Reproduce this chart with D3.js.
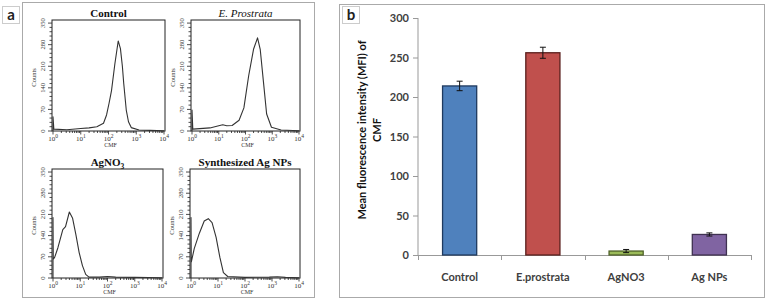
<!DOCTYPE html>
<html lang="en">
<head>
    <meta charset="UTF-8">
    <title>CMF flow cytometry and MFI</title>
    <script src="https://cdn.jsdelivr.net/npm/d3@7/dist/d3.min.js"></script>
    <style>
        body { margin: 0; background: white; }
        svg { display: block; background: white; }
        .serif { font-family: 'Liberation Serif', 'DejaVu Serif', serif; }
        .sans { font-family: Lato, 'Open Sans', 'Liberation Sans', sans-serif; }
    </style>
</head>
<body>
<div id="chart"></div>
<script>
    var svgwidth = 768;
    var svgheight = 304;

    // ---- panel a : histograms (x = log10 CMF, y = counts) ----
    var histTitles = ["Control", "E. Prostrata", "AgNO3", "Synthesized Ag NPs"];
    var histYTicks = [0, 70, 140, 210, 280, 350];
    var histXTicks = [0, 1, 2, 3, 4];   // exponents of 10

    var controlCurve = [[0,0],[0,46],[0.03,6],[0.5,4],[1.0,8],[1.3,10],[1.58,14],[1.82,25],[1.93,52],
        [2.02,90],[2.11,132],[2.23,218],[2.35,292],[2.43,267],[2.5,210],[2.55,153],[2.64,68],
        [2.72,30],[2.82,11],[3.1,3],[3.5,2],[4,1]];
    var prostrataCurve = [[0,0],[0,68],[0.03,6],[0.67,10],[1.0,17],[1.15,20],[1.3,17],[1.5,18],
        [1.76,35],[1.94,75],[2.12,180],[2.3,265],[2.45,302],[2.55,265],[2.67,160],[2.79,55],
        [2.97,12],[3.33,3],[4,1]];
    var agno3Curve = [[0,0],[0,200],[0.01,62],[0.06,68],[0.18,100],[0.36,160],[0.46,170],[0.6,218],
        [0.72,197],[0.84,143],[0.96,84],[1.08,41],[1.2,12],[1.32,3],[1.7,3],[2.0,5],[2.3,3],
        [3,2],[4,1]];
    var agnpCurve = [[0,0],[0,200],[0.01,52],[0.12,97],[0.31,148],[0.49,188],[0.64,196],[0.78,183],
        [0.93,134],[1.07,68],[1.2,18],[1.36,5],[2,2],[2.9,3],[3.2,4],[3.5,2],[4,1]];
    var histCurves = [controlCurve, prostrataCurve, agno3Curve, agnpCurve];

    // ---- panel b : bar chart ----
    var barCategories = ["Control", "E.prostrata", "AgNO3", "Ag NPs"];
    var mfiValues = [214, 256, 5, 26];
    var mfiErrors = [6, 7, 2, 2];
    var barTicks = [0, 50, 100, 150, 200, 250, 300];

    var svg = d3.select('#chart').append('svg')
        .attr('width', svgwidth)
        .attr('height', svgheight);

    // panel frames and letter boxes
    svg.append('rect').attr('x', 22.5).attr('y', 2.5).attr('width', 292).attr('height', 295)
        .attr('fill', 'none').attr('stroke', '#aaa');
    svg.append('rect').attr('x', 339.5).attr('y', 4.5).attr('width', 425).attr('height', 293)
        .attr('fill', 'none').attr('stroke', '#aaa');
    [[2, 6, 'a'], [342, 6, 'b']].forEach(function (l) {
        svg.append('rect').attr('x', l[0] + 0.5).attr('y', l[1] + 0.5).attr('width', 17).attr('height', 17)
            .attr('fill', 'white').attr('stroke', '#ccc');
        svg.append('text').attr('class', 'sans').attr('x', l[0] + 9).attr('y', l[1] + 14)
            .attr('text-anchor', 'middle').style('font-size', '15px').style('font-weight', 'bold')
            .attr('fill', '#222').text(l[2]);
    });

    // layout of the four histogram boxes
    var boxes = [
        { x: 52, y: 20, w: 113, h: 111 },
        { x: 191, y: 20, w: 109, h: 111 },
        { x: 52, y: 169, w: 111, h: 109 },
        { x: 190, y: 169, w: 110, h: 109 }
    ];

    boxes.forEach(function (b, i) {
        var g = svg.append('g').attr('transform', 'translate(' + b.x + ',' + b.y + ')');
        var x = d3.scaleLog().domain([1, 10000]).range([1, b.w - 1]);
        var y = d3.scaleLinear().domain([0, 360]).range([b.h, 0]);

        // title
        var t = g.append('text').attr('class', 'serif')
            .attr('x', b.w / 2).attr('y', -3)
            .attr('text-anchor', 'middle')
            .style('font-size', '11px')
            .style('font-weight', i === 1 ? 'normal' : 'bold')
            .style('font-style', i === 1 ? 'italic' : 'normal')
            .attr('fill', '#111');
        if (histTitles[i] === 'AgNO3') {
            t.append('tspan').text('AgNO');
            t.append('tspan').attr('dy', 3).style('font-size', '7.5px').text('3');
        } else {
            t.text(histTitles[i]);
        }

        // y minor + major ticks
        d3.range(0, 351, 14).forEach(function (v) {
            var major = v % 70 === 0;
            g.append('line').attr('x1', major ? -4 : -2.5).attr('x2', 0)
                .attr('y1', y(v)).attr('y2', y(v))
                .attr('stroke', '#222').attr('stroke-width', 0.8);
        });
        histYTicks.forEach(function (v) {
            g.append('text').attr('class', 'serif')
                .attr('transform', 'translate(-7,' + y(v) + ') rotate(-90)')
                .attr('text-anchor', 'middle')
                .style('font-size', '6.5px').attr('fill', '#333')
                .text(v);
        });
        g.append('text').attr('class', 'serif')
            .attr('transform', 'translate(-16,' + (b.h / 2 + 2) + ') rotate(-90)')
            .attr('text-anchor', 'middle').style('font-size', '6.5px').attr('fill', '#333')
            .text('Counts');

        // x log ticks
        d3.range(0, 4).forEach(function (e) {
            d3.range(1, 10).forEach(function (m) {
                var v = m * Math.pow(10, e);
                g.append('line').attr('x1', x(v)).attr('x2', x(v))
                    .attr('y1', b.h).attr('y2', b.h + (m === 1 ? 3.5 : 2))
                    .attr('stroke', '#222').attr('stroke-width', 0.8);
            });
        });
        g.append('line').attr('x1', x(10000)).attr('x2', x(10000))
            .attr('y1', b.h).attr('y2', b.h + 3.5).attr('stroke', '#222').attr('stroke-width', 0.8);
        histXTicks.forEach(function (e) {
            var lab = g.append('text').attr('class', 'serif')
                .attr('x', x(Math.pow(10, e))).attr('y', b.h + 10)
                .attr('text-anchor', 'middle').style('font-size', '7px').attr('fill', '#333');
            lab.append('tspan').text('10');
            lab.append('tspan').attr('dy', -3).style('font-size', '5.5px').text(e);
        });
        g.append('text').attr('class', 'serif')
            .attr('x', b.w / 2 + 2).attr('y', b.h + 15.5)
            .attr('text-anchor', 'middle').style('font-size', '6px').attr('fill', '#333')
            .text('CMF');

        // frame
        g.append('rect').attr('x', 0).attr('y', 0).attr('width', b.w).attr('height', b.h)
            .attr('fill', 'none').attr('stroke', '#222').attr('stroke-width', 1);

        // curve
        var line = d3.line()
            .x(function (d) { return x(Math.pow(10, d[0])); })
            .y(function (d) { return y(d[1]); });
        g.append('path').datum(histCurves[i])
            .attr('d', line)
            .attr('fill', 'none')
            .attr('stroke', '#333')
            .attr('stroke-width', 1.1)
            .attr('stroke-linejoin', 'round');
    });

    // ---- bar chart ----
    var bx = d3.scaleBand().domain(barCategories).range([418, 751]).paddingInner(0.59).paddingOuter(0.295);
    var by = d3.scaleLinear().domain([0, 300]).range([255, 18]);
    var fills = ['#4f81bd', '#c0504d', '#9bbb59', '#8064a2'];
    var edges = ['#1f3a5f', '#5a1f1d', '#4f6228', '#3f3151'];

    var bg = svg.append('g');

    // y axis
    bg.append('line').attr('x1', 418).attr('x2', 418).attr('y1', by(300)).attr('y2', by(0))
        .attr('stroke', '#999');
    barTicks.forEach(function (v) {
        bg.append('line').attr('x1', 413).attr('x2', 418).attr('y1', by(v) + 0.5).attr('y2', by(v) + 0.5)
            .attr('stroke', '#999');
        bg.append('text').attr('class', 'sans')
            .attr('x', 409).attr('y', by(v) + 4)
            .attr('text-anchor', 'end')
            .style('font-size', '11px').style('font-weight', 'bold').attr('fill', '#404040')
            .text(v);
    });

    // x axis
    bg.append('line').attr('x1', 418).attr('x2', 751).attr('y1', by(0) + 0.5).attr('y2', by(0) + 0.5)
        .attr('stroke', '#999');
    d3.range(0, 5).forEach(function (k) {
        var xx = Math.round(418 + k * bx.step()) + 0.5;
        bg.append('line').attr('x1', xx).attr('x2', xx).attr('y1', by(0)).attr('y2', by(0) + 5)
            .attr('stroke', '#999');
    });
    barCategories.forEach(function (c) {
        bg.append('text').attr('class', 'sans')
            .attr('x', bx(c) + bx.bandwidth() / 2).attr('y', 281)
            .attr('text-anchor', 'middle')
            .style('font-size', '11px').style('font-weight', 'bold').attr('fill', '#404040')
            .text(c);
    });

    // bars
    barCategories.forEach(function (c, i) {
        bg.append('rect')
            .attr('x', bx(c)).attr('y', by(mfiValues[i]))
            .attr('width', bx.bandwidth()).attr('height', by(0) - by(mfiValues[i]))
            .attr('fill', fills[i]).attr('stroke', edges[i]).attr('stroke-width', 1.3);
        var cx = bx(c) + bx.bandwidth() / 2;
        var top = by(mfiValues[i] + mfiErrors[i]);
        var bot = by(mfiValues[i] - mfiErrors[i]);
        bg.append('line').attr('x1', cx).attr('x2', cx).attr('y1', top).attr('y2', bot)
            .attr('stroke', '#111').attr('stroke-width', 1);
        [top, bot].forEach(function (yy) {
            bg.append('line').attr('x1', cx - 3).attr('x2', cx + 3).attr('y1', yy).attr('y2', yy)
                .attr('stroke', '#111').attr('stroke-width', 1);
        });
    });

    // y axis title
    var yt = bg.append('text').attr('class', 'sans')
        .attr('transform', 'translate(366,130) rotate(-90)')
        .attr('text-anchor', 'middle')
        .style('font-size', '11px').style('font-weight', 'bold').attr('fill', '#111');
    yt.append('tspan').attr('x', 0).attr('dy', 0).text('Mean fluorescence intensity (MFI) of');
    yt.append('tspan').attr('x', 0).attr('dy', 15).text('CMF');
</script>
</body>
</html>
